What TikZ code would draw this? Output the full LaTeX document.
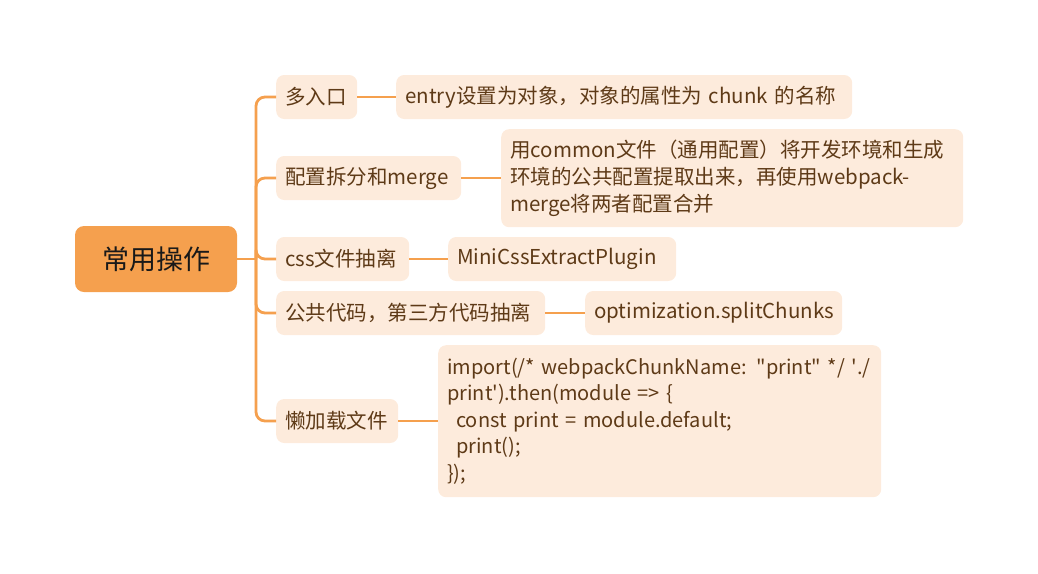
\documentclass[tikz,border=0pt]{standalone}
\usepackage{fontspec}
\newfontfamily\cjk{Noto Sans CJK SC}
\definecolor{orng}{HTML}{F5A04E}
\definecolor{pale}{HTML}{FDEBDC}
\definecolor{brn}{HTML}{5E3A17}
\begin{document}
\begin{tikzpicture}[x=1pt,y=-1pt,
  conn/.style={draw=orng,line width=2.8pt,rounded corners=9pt},
  rootbox/.style={fill=orng,rounded corners=9pt,minimum height=66pt,minimum width=162pt,inner sep=0pt,
     font=\cjk\fontsize{27}{32}\selectfont,text=black!90},
  sub/.style={fill=pale,rounded corners=8pt,minimum height=44pt,inner xsep=9pt,inner ysep=0pt,anchor=west,
     font=\cjk\fontsize{20.5}{27}\selectfont,text=brn,align=left},
  multi/.style={sub,anchor=north west,inner ysep=10.5pt},
  code/.style={multi,font=\cjk\fontsize{20}{26.5}\selectfont,inner ysep=11pt}
]
\useasboundingbox (0,0) rectangle (1038,573);
\node[rootbox] (root) at (156,259) {常用操作};
\node[sub,text width=63pt] (a) at (276,97) {多入口};
\node[sub,text width=167pt] (b) at (276,178) {配置拆分和merge};
\node[sub,text width=115pt] (c) at (276,259) {css文件抽离};
\node[sub,text width=251pt] (d) at (276,313) {公共代码，第三方代码抽离};
\node[sub,text width=104pt] (e) at (276,421) {懒加载文件};
\node[sub,text width=438pt] (a1) at (396,97) {entry设置为对象，对象的属性为 chunk 的名称};
\node[multi,minimum height=98pt,text width=444pt] (b1) at (501,129)
  {用common文件（通用配置）将开发环境和生成\\环境的公共配置提取出来，再使用webpack-\\merge将两者配置合并};
\node[sub,text width=210pt] (c1) at (448,259) {MiniCssExtractPlugin};
\node[sub,text width=239pt] (d1) at (585,313) {optimization.splitChunks};
\node[code,minimum height=152pt,text width=425pt] (e1) at (438,345)
  {import(/* webpackChunkName: "print" */ \textquotesingle./\\
   print\textquotesingle).then(module => \{\\
   \hspace*{0.45em}const print = module.default;\\
   \hspace*{0.45em}print();\\
   \});};
\coordinate (tr) at (256,259);
\draw[conn] (root.east) -- (tr);
\foreach \n in {a,b,c,d,e} {\draw[conn] (tr) |- (\n.west);}
\draw[conn] (a.east) -- (a1.west);
\draw[conn] (b.east) -- (b1.west |- b.east);
\draw[conn] (c.east) -- (c1.west);
\draw[conn] (d.east) -- (d1.west);
\draw[conn] (e.east) -- (e1.west |- e.east);
\end{tikzpicture}
\end{document}
